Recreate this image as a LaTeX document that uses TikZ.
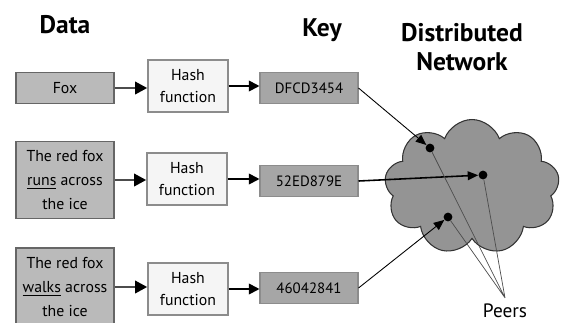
\documentclass[tikz,border=0pt]{standalone}
\usepackage{fontspec}
\setmainfont{PT Sans}
\usetikzlibrary{shapes.symbols,arrows.meta}

\begin{document}
\begin{tikzpicture}[x=0.02cm,y=-0.02cm,
  title/.style={font=\fontsize{14.5}{16.5}\selectfont\bfseries,align=center},
  databox/.style={draw=black!60,fill=black!27,line width=0.8pt,minimum width=1.96cm,align=center,font=\fontsize{9}{13.5}\selectfont,inner sep=1pt},
  hashbox/.style={draw=black!45,fill=black!4,line width=0.8pt,minimum width=1.6cm,minimum height=1.04cm,align=center,font=\fontsize{9}{12.5}\selectfont},
  keybox/.style={draw=black!45,fill=black!35,line width=0.6pt,minimum width=1.96cm,minimum height=0.63cm,font=\fontsize{8.5}{10}\selectfont},
  feed/.style={draw=black!70,line width=1.6pt,-{Triangle[length=7pt,width=7pt,color=black]}},
  hashed/.style={line width=1pt,-{Triangle[length=6pt,width=6pt]}},
  lookup/.style={line width=0.5pt,-{Triangle[length=6pt,width=5pt]}},
  peer/.style={circle,fill=black,inner sep=0pt,minimum size=5pt}]
\useasboundingbox (0,0) rectangle (562,322);
\node[title] (tdata) at (65,25) {Data};
\node[title] (tkey) at (322,30) {Key};
\node[title] (tnet) at (462,47) {Distributed\\Network};
\node[databox,minimum height=0.62cm] (fox) at (65,88) {Fox};
\node[hashbox] (hash1) at (188,86) {Hash\\function};
\node[keybox] (key1) at (309,88) {DFCD3454};
\node[databox,minimum height=1.54cm] (runs) at (65,180) {The red fox\\\underline{runs} across\\the ice};
\node[hashbox] (hash2) at (187,179) {Hash\\function};
\node[keybox] (key2) at (309,181) {52ED879E};
\node[databox,minimum height=1.56cm] (walks) at (65,287) {The red fox\\\underline{walks} across\\the ice};
\node[hashbox] (hash3) at (188,289) {Hash\\function};
\node[keybox] (key3) at (309,288) {46042841};
\node[cloud,cloud puffs=9,cloud puff arc=140,cloud ignores aspect,draw=black!80,fill=black!42,line width=0.6pt,minimum width=3.5cm,minimum height=2.7cm] (net) at (472,187) {};
\node[peer] (p1) at (430,148) {};
\node[peer] (p2) at (483,175) {};
\node[peer] (p3) at (448,217) {};
\node[font=\fontsize{11}{12}\selectfont] (peers) at (505,311) {Peers};
\draw[feed] (fox.east) -- (fox.east -| hash1.west);
\draw[feed] (runs.east) -- (runs.east -| hash2.west);
\draw[feed] (walks.east) -- (walks.east -| hash3.west);
\draw[hashed] (hash1.east) -- (hash1.east -| key1.west);
\draw[hashed] (hash2.east) -- (hash2.east -| key2.west);
\draw[hashed] (hash3.east) -- (hash3.east -| key3.west);
\draw[lookup] (key1.east) -- (p1);
\draw[lookup,line width=0.9pt] (key2.east) -- (p2);
\draw[lookup] (key3.east) -- (p3);
\draw[black!70,line width=0.4pt] (p1) -- (peers.north) (p2) -- (peers.north) (p3) -- (peers.north);
\end{tikzpicture}
\end{document}
